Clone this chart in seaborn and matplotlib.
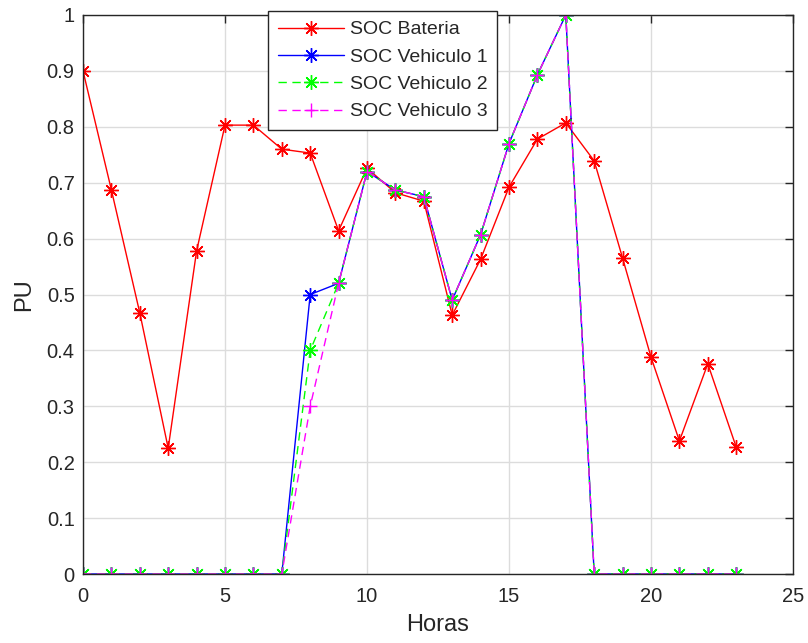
import numpy as np
import pandas as pd
import matplotlib
matplotlib.use("Agg")
import matplotlib.pyplot as plt
import seaborn as sns

horas = list(range(24))
soc_bateria = [0.90, 0.687, 0.467, 0.225, 0.578, 0.803, 0.803, 0.760, 0.753, 0.614,
               0.726, 0.682, 0.667, 0.463, 0.563, 0.692, 0.778, 0.807, 0.739, 0.565,
               0.388, 0.238, 0.376, 0.227]
soc_vehiculo1 = [0, 0, 0, 0, 0, 0, 0, 0, 0.50, 0.52, 0.72, 0.687, 0.675, 0.49, 0.607,
                 0.77, 0.893, 1.0, 0, 0, 0, 0, 0, 0]
soc_vehiculo2 = [0, 0, 0, 0, 0, 0, 0, 0, 0.40, 0.52, 0.72, 0.687, 0.675, 0.49, 0.607,
                 0.77, 0.893, 1.0, 0, 0, 0, 0, 0, 0]
soc_vehiculo3 = [0, 0, 0, 0, 0, 0, 0, 0, 0.30, 0.52, 0.72, 0.687, 0.675, 0.49, 0.607,
                 0.77, 0.893, 1.0, 0, 0, 0, 0, 0, 0]

sns.set_theme(style="white")
plt.rcParams['font.family'] = ['Liberation Sans', 'DejaVu Sans']

fig = plt.figure(figsize=(8.08, 6.43), dpi=100)
ax = fig.add_axes([83 / 808, 1 - 574 / 643, 710 / 808, 559 / 643])

ast = (8, 2, 0)
series = [
    ("SOC Bateria", soc_bateria, "#ff0000", "-", ast),
    ("SOC Vehiculo 1", soc_vehiculo1, "#0000ff", "-", ast),
    ("SOC Vehiculo 2", soc_vehiculo2, "#00ff00", (0, (6, 4)), ast),
    ("SOC Vehiculo 3", soc_vehiculo3, "#ff00ff", (0, (6, 4)), "+"),
]
for name, vals, col, ls, mk in series:
    df = pd.DataFrame({"Horas": horas, "PU": vals})
    sns.lineplot(data=df, x="Horas", y="PU", ax=ax, color=col, linestyle=ls,
                 marker=mk, markersize=10.5, markeredgewidth=1.0,
                 markeredgecolor=col, markerfacecolor=col, linewidth=1.0,
                 label=name)

ax.set_xlim(0, 25)
ax.set_ylim(0, 1)
ax.set_xticks([0, 5, 10, 15, 20, 25])
ax.set_xticklabels(["0", "5", "10", "15", "20", "25"])
ax.set_yticks(np.round(np.arange(0, 1.01, 0.1), 1))
ax.set_yticklabels(["0", "0.1", "0.2", "0.3", "0.4", "0.5", "0.6", "0.7", "0.8", "0.9", "1"])
ax.grid(True, color="#dcdcdc", linewidth=1.0)
ax.set_axisbelow(True)
for s in ax.spines.values():
    s.set_color("#262626")
    s.set_linewidth(1.0)
ax.tick_params(direction="in", length=6, width=1.0, colors="#262626",
               labelsize=14.5, top=True, right=True)
ax.tick_params(axis="x", pad=9)
ax.tick_params(axis="y", pad=6)
ax.set_xlabel("Horas", fontsize=17, color="#262626", labelpad=6)
ax.set_ylabel("PU", fontsize=17, color="#262626", labelpad=8)

leg = ax.legend(loc="upper left", bbox_to_anchor=(185 / 710, 1.007), fontsize=14,
                frameon=True, fancybox=False, edgecolor="#262626",
                handlelength=3.4, borderpad=0.5, labelspacing=0.5,
                handletextpad=0.3, borderaxespad=0)
leg.get_frame().set_linewidth(1.0)
leg.get_frame().set_alpha(1)

fig.savefig("out.png", dpi=100, facecolor="white")
